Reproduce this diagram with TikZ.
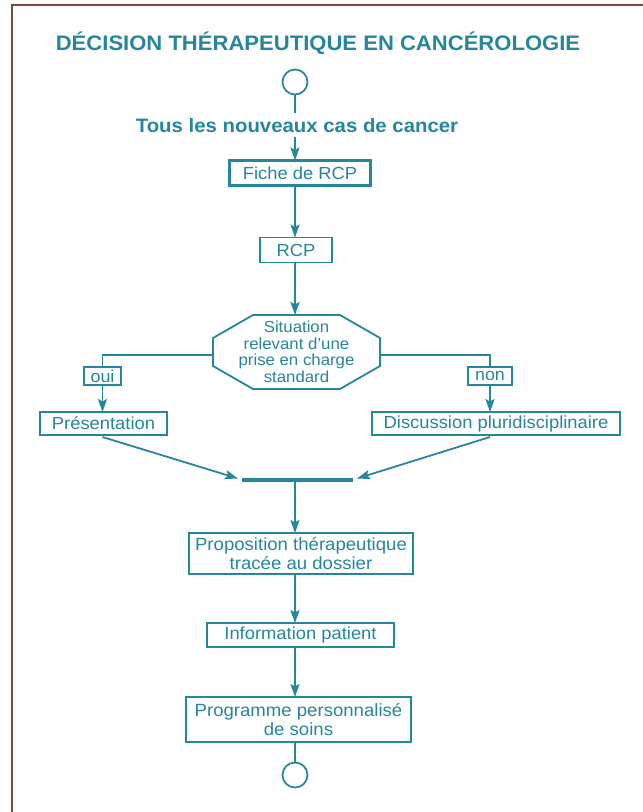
\documentclass[tikz,border=0pt]{standalone}
\usepackage{fontspec}
\setmainfont{Liberation Sans}[FakeStretch=1.05]
\usetikzlibrary{arrows.meta}
\definecolor{tealc}{RGB}{38,134,155}
\definecolor{framec}{RGB}{122,72,58}
\begin{document}
\begin{tikzpicture}[x=1pt,y=-1pt,
  every node/.style={text=tealc, inner sep=0pt, outer sep=0pt, align=center},
  boxn/.style={draw=tealc, line width=1.7pt, font=\fontsize{17.5}{19}\selectfont},
  thickboxn/.style={boxn, line width=2.8pt},
  labn/.style={draw=tealc, line width=1.6pt, font=\fontsize{17}{18}\selectfont},
  circn/.style={draw=tealc, line width=1.7pt, circle, minimum size=25pt},
  conn/.style={draw=tealc, line width=1.8pt},
  arr/.style={conn, -{Stealth[length=13pt,width=9pt,inset=2.5pt]}}
]
\useasboundingbox (0,0) rectangle (643,812);
\fill[white] (0,0) rectangle (643,812);
\draw[framec, line width=2.6pt] (12,812) -- (12,5) -- (643,5);

\coordinate (ax) at (295,0);

\node[anchor=base, font=\fontsize{21}{23}\selectfont\bfseries] (title) at (318,50) {DÉCISION THÉRAPEUTIQUE EN CANCÉROLOGIE};
\node[circn] (c1) at (295,82) {};
\node[anchor=base, font=\fontsize{19.4}{21}\selectfont\bfseries] (tous) at (297,132) {Tous les nouveaux cas de cancer};
\node[thickboxn, minimum width=141pt, minimum height=25pt] (fiche) at (300,173) {Fiche de RCP};
\node[boxn, minimum width=72pt, minimum height=25pt] (rcp) at (296,250) {RCP};
\node[minimum width=167pt, minimum height=74pt, font=\fontsize{16}{16.5}\selectfont] (sit) at (296.5,352) {Situation\\relevant d’une\\prise en charge\\standard};
\draw[conn] ([xshift=40pt]sit.north west) -- ([xshift=-40pt]sit.north east) -- ([yshift=-23pt]sit.north east) -- ([yshift=23pt]sit.south east) -- ([xshift=-40pt]sit.south east) -- ([xshift=40pt]sit.south west) -- ([yshift=23pt]sit.south west) -- ([yshift=-23pt]sit.north west) -- cycle;
\node[labn, minimum width=37pt, minimum height=18pt] (oui) at (102.5,376) {oui};
\node[labn, minimum width=44pt, minimum height=18pt] (non) at (490,376) {non};
\node[boxn, minimum width=127pt, minimum height=23pt] (pres) at (103.5,423.5) {Présentation};
\node[boxn, minimum width=248pt, minimum height=23pt] (disc) at (496,423.5) {Discussion pluridisciplinaire};
\coordinate (barL) at (242,480);
\coordinate (barR) at (353,480);
\coordinate (tipL) at (238,478.5);
\coordinate (tipR) at (357,478.5);
\node[boxn, minimum width=224pt, minimum height=41pt, font=\fontsize{17.7}{19}\selectfont] (prop) at (301,553.5) {Proposition thérapeutique\\tracée au dossier};
\node[boxn, minimum width=187pt, minimum height=24pt] (info) at (300.5,635) {Information patient};
\node[thickboxn, minimum width=225pt, minimum height=45pt, font=\fontsize{17.7}{19.5}\selectfont] (prog) at (298.5,719.5) {Programme personnalisé\\de soins};
\node[circn] (c2) at (295,775) {};

\draw[conn] (c1.south) -- ([yshift=5pt]tous.north -| ax);
\draw[arr] ([yshift=-5pt]tous.base -| ax) -- (fiche.north -| ax);
\draw[arr] (fiche.south -| ax) -- (rcp.north -| ax);
\draw[arr] (rcp.south -| ax) -- (sit.north -| ax);
\draw[conn] ([yshift=-3pt]sit.west) -- ([yshift=-3pt]sit.west -| oui.north) -- (oui.north);
\draw[conn] ([yshift=-3pt]sit.east) -- ([yshift=-3pt]sit.east -| non.north) -- (non.north);
\draw[arr] (oui.south) -- (oui.south |- pres.north);
\draw[arr] (non.south) -- (non.south |- disc.north);
\draw[arr] ([yshift=-2pt]pres.south -| oui.south) -- (tipL);
\draw[arr] ([yshift=-2pt]disc.south -| non.south) -- (tipR);
\draw[tealc, line width=3.2pt] (barL) -- (barR);
\draw[arr] (barL -| ax) -- (prop.north -| ax);
\draw[arr] (prop.south -| ax) -- (info.north -| ax);
\draw[arr] (info.south -| ax) -- (prog.north -| ax);
\draw[conn] (prog.south -| ax) -- (c2.north);
\end{tikzpicture}
\end{document}
